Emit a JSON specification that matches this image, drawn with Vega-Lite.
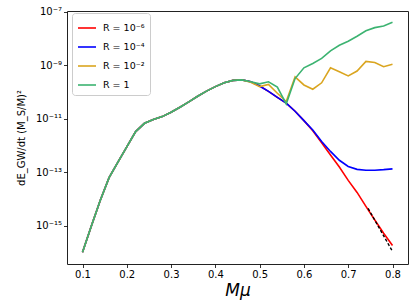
{
  "$schema": "https://vega.github.io/schema/vega-lite/v6.json",
  "width": 341,
  "height": 253,
  "autosize": {"type": "none"},
  "padding": {"left": 67, "top": 11, "right": 7, "bottom": 43},
  "config": {
    "font": "DejaVu Sans",
    "view": {"stroke": "#222222", "strokeWidth": 1},
    "axis": {
      "domain": false,
      "grid": false,
      "tickColor": "#000000",
      "tickSize": 3.5,
      "tickWidth": 0.8,
      "labelColor": "#000000",
      "labelFontSize": 10,
      "labelFont": "DejaVu Sans",
      "titleColor": "#000000",
      "titleFont": "DejaVu Sans",
      "titleFontWeight": "normal"
    }
  },
  "layer": [
    {
      "data": {
        "values": [
          {"x": 0.10, "r6": 1.05e-16, "r4": 1.05e-16, "r2": 1.05e-16, "r1": 1.05e-16},
          {"x": 0.12, "r6": 1.0e-15, "r4": 1.0e-15, "r2": 1.0e-15, "r1": 1.0e-15},
          {"x": 0.14, "r6": 8.91e-15, "r4": 8.91e-15, "r2": 8.91e-15, "r1": 8.91e-15},
          {"x": 0.16, "r6": 6.31e-14, "r4": 6.31e-14, "r2": 6.31e-14, "r1": 6.31e-14},
          {"x": 0.18, "r6": 2.40e-13, "r4": 2.40e-13, "r2": 2.40e-13, "r1": 2.40e-13},
          {"x": 0.20, "r6": 8.91e-13, "r4": 8.91e-13, "r2": 8.91e-13, "r1": 8.91e-13},
          {"x": 0.22, "r6": 3.31e-12, "r4": 3.31e-12, "r2": 3.31e-12, "r1": 3.31e-12},
          {"x": 0.24, "r6": 6.76e-12, "r4": 6.76e-12, "r2": 6.76e-12, "r1": 6.76e-12},
          {"x": 0.26, "r6": 9.33e-12, "r4": 9.33e-12, "r2": 9.33e-12, "r1": 9.33e-12},
          {"x": 0.28, "r6": 1.20e-11, "r4": 1.20e-11, "r2": 1.20e-11, "r1": 1.20e-11},
          {"x": 0.30, "r6": 1.74e-11, "r4": 1.74e-11, "r2": 1.74e-11, "r1": 1.74e-11},
          {"x": 0.32, "r6": 2.69e-11, "r4": 2.69e-11, "r2": 2.69e-11, "r1": 2.69e-11},
          {"x": 0.34, "r6": 4.27e-11, "r4": 4.27e-11, "r2": 4.27e-11, "r1": 4.27e-11},
          {"x": 0.36, "r6": 6.92e-11, "r4": 6.92e-11, "r2": 6.92e-11, "r1": 6.92e-11},
          {"x": 0.38, "r6": 1.07e-10, "r4": 1.07e-10, "r2": 1.07e-10, "r1": 1.07e-10},
          {"x": 0.40, "r6": 1.58e-10, "r4": 1.58e-10, "r2": 1.58e-10, "r1": 1.58e-10},
          {"x": 0.42, "r6": 2.19e-10, "r4": 2.19e-10, "r2": 2.19e-10, "r1": 2.19e-10},
          {"x": 0.44, "r6": 2.69e-10, "r4": 2.69e-10, "r2": 2.69e-10, "r1": 2.69e-10},
          {"x": 0.46, "r6": 2.82e-10, "r4": 2.82e-10, "r2": 2.82e-10, "r1": 2.82e-10},
          {"x": 0.48, "r6": 2.40e-10, "r4": 2.40e-10, "r2": 2.29e-10, "r1": 2.40e-10},
          {"x": 0.50, "r6": 1.66e-10, "r4": 1.66e-10, "r2": 1.58e-10, "r1": 2.0e-10},
          {"x": 0.52, "r6": 1.05e-10, "r4": 1.05e-10, "r2": 1.91e-10, "r1": 2.40e-10},
          {"x": 0.54, "r6": 6.31e-11, "r4": 6.31e-11, "r2": 8.91e-11, "r1": 1.51e-10},
          {"x": 0.56, "r6": 3.80e-11, "r4": 3.80e-11, "r2": 4.37e-11, "r1": 3.55e-11},
          {"x": 0.58, "r6": 1.91e-11, "r4": 1.91e-11, "r2": 3.63e-10, "r1": 3.16e-10},
          {"x": 0.60, "r6": 8.51e-12, "r4": 8.51e-12, "r2": 1.82e-10, "r1": 7.94e-10},
          {"x": 0.62, "r6": 3.55e-12, "r4": 3.80e-12, "r2": 1.26e-10, "r1": 1.15e-9},
          {"x": 0.64, "r6": 1.26e-12, "r4": 1.41e-12, "r2": 2.19e-10, "r1": 1.78e-9},
          {"x": 0.66, "r6": 4.47e-13, "r4": 6.03e-13, "r2": 7.94e-10, "r1": 3.39e-9},
          {"x": 0.68, "r6": 1.58e-13, "r4": 2.82e-13, "r2": 5.62e-10, "r1": 5.50e-9},
          {"x": 0.70, "r6": 5.01e-14, "r4": 1.66e-13, "r2": 3.98e-10, "r1": 7.76e-9},
          {"x": 0.72, "r6": 1.78e-14, "r4": 1.29e-13, "r2": 6.03e-10, "r1": 1.20e-8},
          {"x": 0.74, "r6": 5.37e-15, "r4": 1.20e-13, "r2": 1.38e-9, "r1": 1.91e-8},
          {"x": 0.76, "r6": 1.66e-15, "r4": 1.20e-13, "r2": 1.26e-9, "r1": 2.51e-8},
          {"x": 0.78, "r6": 5.37e-16, "r4": 1.26e-13, "r2": 8.71e-10, "r1": 2.88e-8},
          {"x": 0.80, "r6": 1.86e-16, "r4": 1.35e-13, "r2": 1.07e-9, "r1": 3.98e-8}
        ]
      },
      "transform": [{"fold": ["r6", "r4", "r2", "r1"], "as": ["series", "value"]}],
      "mark": {"type": "line", "strokeWidth": 1.6},
      "encoding": {
        "x": {
          "field": "x", "type": "quantitative",
          "scale": {"domain": [0.065, 0.835], "nice": false, "zero": false},
          "axis": {"values": [0.1, 0.2, 0.3, 0.4, 0.5, 0.6, 0.7, 0.8], "format": ".1f", "title": "Mμ", "titleFontSize": 17, "titleFontStyle": "italic", "titlePadding": 3}
        },
        "y": {
          "field": "value", "type": "quantitative",
          "scale": {"type": "log", "domain": [3.8e-17, 1.047e-7], "nice": false},
          "axis": {
            "values": [1e-15, 1e-13, 1e-11, 1e-9, 1e-7],
            "labelExpr": "round(log(datum.value)/LN10) == -7 ? '10⁻⁷' : round(log(datum.value)/LN10) == -9 ? '10⁻⁹' : round(log(datum.value)/LN10) == -11 ? '10⁻¹¹' : round(log(datum.value)/LN10) == -13 ? '10⁻¹³' : '10⁻¹⁵'",
            "title": "dE_GW/dt (M_S/M)²",
            "titleFontSize": 10,
            "titlePadding": 9
          }
        },
        "color": {
          "field": "series", "type": "nominal",
          "scale": {"domain": ["r6", "r4", "r2", "r1"], "range": ["#ff0000", "#0000ff", "#daa520", "#3cb371"]},
          "legend": {
            "title": null,
            "orient": "none",
            "legendX": 5,
            "legendY": 2,
            "fillColor": "#ffffff",
            "strokeColor": "#cccccc",
            "cornerRadius": 3,
            "padding": 5,
            "symbolType": "stroke",
            "symbolSize": 324,
            "symbolStrokeWidth": 1.6,
            "labelFontSize": 9.5,
            "labelColor": "#000000",
            "labelOffset": 6,
            "rowPadding": 4,
            "labelExpr": "datum.value == 'r6' ? 'R = 10⁻⁶' : datum.value == 'r4' ? 'R = 10⁻⁴' : datum.value == 'r2' ? 'R = 10⁻²' : 'R = 1'"
          }
        }
      }
    },
    {
      "data": {
        "values": [
          {"x": 0.745, "fit": 4.5e-15},
          {"x": 0.80, "fit": 1.12e-16}
        ]
      },
      "mark": {"type": "line", "color": "#000000", "strokeWidth": 1.4, "strokeDash": [3, 2]},
      "encoding": {
        "x": {"field": "x", "type": "quantitative"},
        "y": {"field": "fit", "type": "quantitative"}
      }
    }
  ]
}
